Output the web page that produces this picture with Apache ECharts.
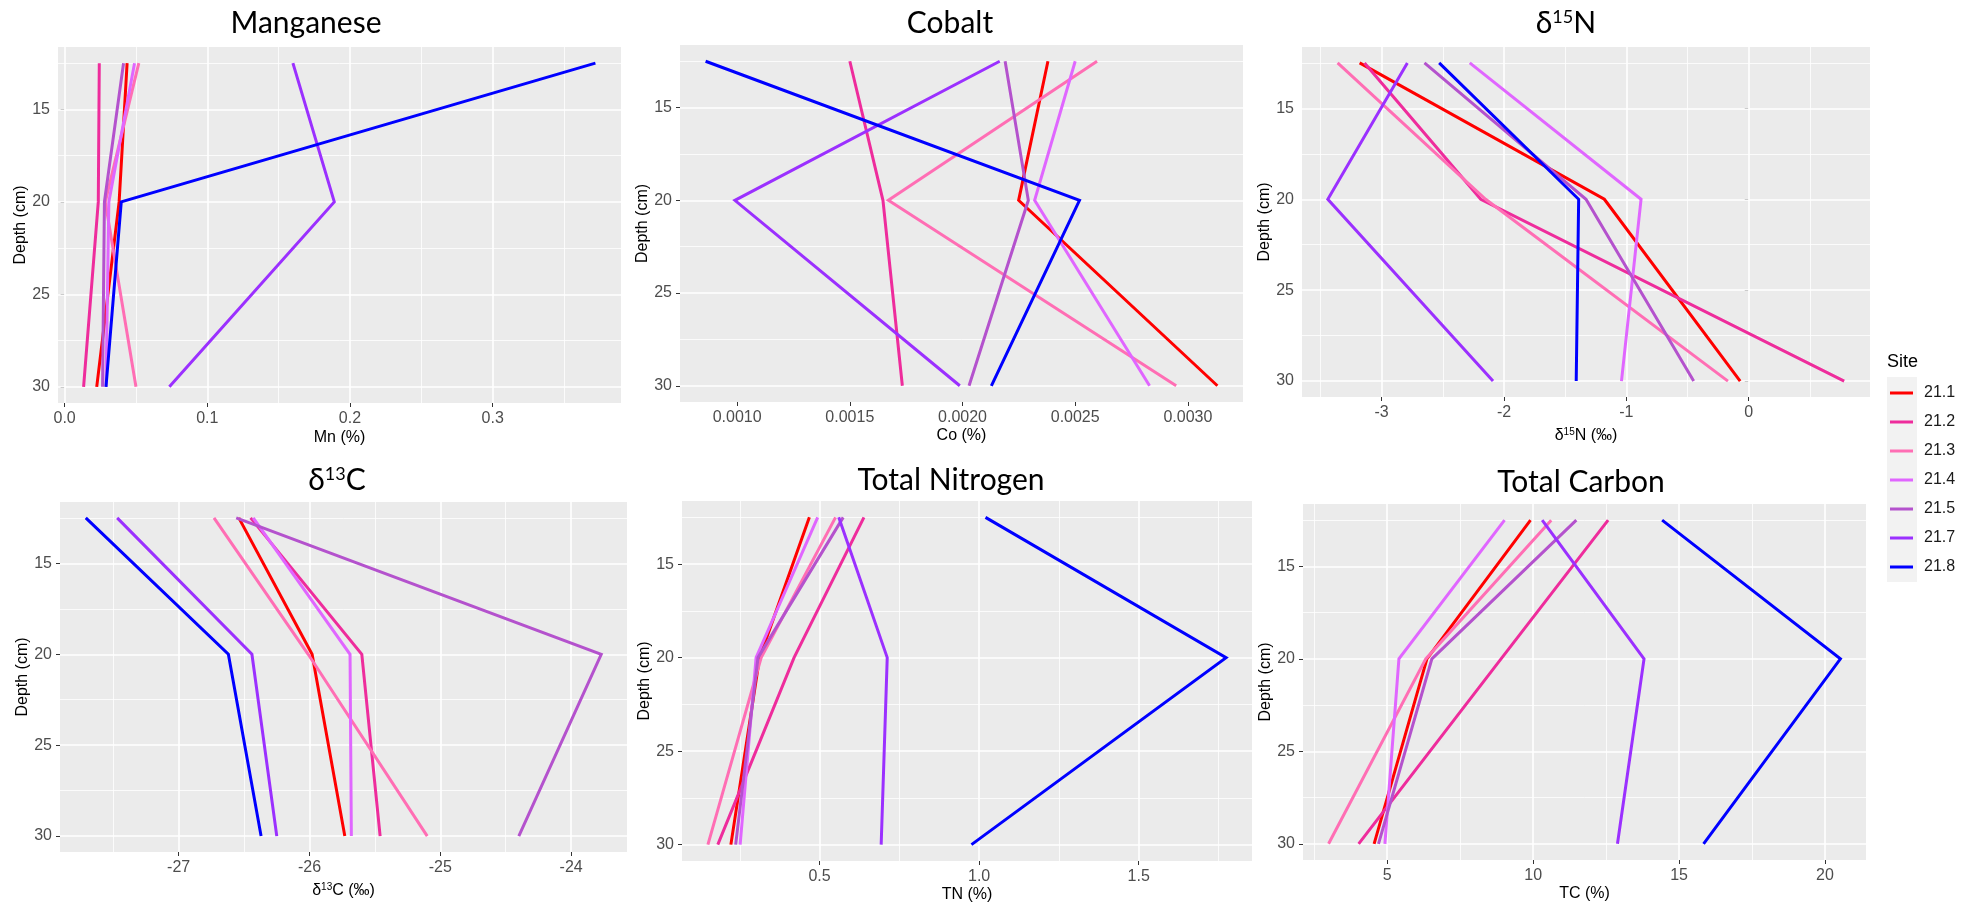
<!DOCTYPE html>
<html>
<head>
<meta charset="utf-8">
<script src="https://cdn.jsdelivr.net/npm/echarts@6/dist/echarts.min.js"></script>
<style>
  html, body { margin: 0; padding: 0; background: #ffffff; }
  #chart { width: 1975px; height: 907px; }
</style>
</head>
<body>
<div id="chart"></div>
<script>
// Sampling depths (cm) and sites
const depths = [12.5, 20, 30];
const sites = ['21.1', '21.2', '21.3', '21.4', '21.5', '21.7', '21.8'];
const siteColors = ['#FF0000', '#EE2C9C', '#FF6EB4', '#E066FF', '#B452CD', '#9B30FF', '#0000FF'];

// One row per site, one value per depth
const mnPct = [
  [0.0438, 0.0382, 0.0225],
  [0.0243, 0.0236, 0.0133],
  [0.0520, 0.0285, 0.0500],
  [0.0490, 0.0310, 0.0290],
  [0.0413, 0.0279, 0.0266],
  [0.1600, 0.1890, 0.0734],
  [0.3720, 0.0397, 0.0290]
];
const coPct = [
  [0.002379, 0.002249, 0.003131],
  [0.001500, 0.001647, 0.001733],
  [0.002597, 0.001671, 0.002948],
  [0.002500, 0.002320, 0.002830],
  [0.002189, 0.002292, 0.002029],
  [0.002165, 0.000990, 0.001988],
  [0.000860, 0.002519, 0.002128]
];
const d15N = [
  [-3.18, -1.18, -0.07],
  [-3.14, -2.19, 0.78],
  [-3.36, -2.15, -0.17],
  [-2.28, -0.88, -1.04],
  [-2.65, -1.33, -0.45],
  [-2.79, -3.44, -2.09],
  [-2.53, -1.39, -1.41]
];
const d13C = [
  [-26.54, -25.98, -25.73],
  [-26.45, -25.60, -25.46],
  [-26.73, -26.01, -25.10],
  [-26.43, -25.69, -25.68],
  [-26.56, -23.77, -24.40],
  [-27.47, -26.44, -26.25],
  [-27.71, -26.62, -26.37]
];
const tnPct = [
  [0.468, 0.312, 0.222],
  [0.639, 0.420, 0.181],
  [0.550, 0.317, 0.150],
  [0.494, 0.301, 0.251],
  [0.574, 0.307, 0.237],
  [0.560, 0.712, 0.693],
  [1.020, 1.774, 0.976]
];
const tcPct = [
  [9.91, 6.36, 4.55],
  [12.57, 8.90, 4.02],
  [10.62, 6.32, 2.99],
  [9.02, 5.40, 4.92],
  [11.48, 6.53, 4.70],
  [10.31, 13.80, 12.89],
  [14.42, 20.53, 15.84]
];

// Axis breaks
const mnTicks = [0, 0.1, 0.2, 0.3];
const coTicks = [0.0010, 0.0015, 0.0020, 0.0025, 0.0030];
const d15NTicks = [-3, -2, -1, 0];
const d13CTicks = [-27, -26, -25, -24];
const tnTicks = [0.5, 1.0, 1.5];
const tcTicks = [5, 10, 15, 20];
const depthTicks = [15, 20, 25, 30];

const LABEL_FONT = 'Liberation Sans';
const TITLE_FONT = 'Lato';

const supRich = {
  s: { fontSize: 10, lineHeight: 10, verticalAlign: 'top', fontFamily: LABEL_FONT, color: '#000' }
};

const panels = [
  { title: 'Manganese', axisName: 'Mn (%)', values: mnPct, ticks: mnTicks, dec: 1,
    box: { left: 58, top: 47, width: 563, height: 356 }, titleAt: [306, 23], nameGap: 26 },
  { title: 'Cobalt', axisName: 'Co (%)', values: coPct, ticks: coTicks, dec: 4,
    box: { left: 680, top: 45, width: 563, height: 357 }, titleAt: [950, 23], nameGap: 24 },
  { title: 'δ{s|15}N', axisName: 'δ{s|15}N (‰)', values: d15N, ticks: d15NTicks, dec: 0,
    box: { left: 1302, top: 47, width: 568, height: 350 }, titleAt: [1566, 23], nameGap: 30 },
  { title: 'δ{s|13}C', axisName: 'δ{s|13}C (‰)', values: d13C, ticks: d13CTicks, dec: 0,
    box: { left: 60, top: 502, width: 567, height: 350 }, titleAt: [337, 480], nameGap: 30 },
  { title: 'Total Nitrogen', axisName: 'TN (%)', values: tnPct, ticks: tnTicks, dec: 1,
    box: { left: 682, top: 501, width: 570, height: 360 }, titleAt: [951, 480], nameGap: 23 },
  { title: 'Total Carbon', axisName: 'TC (%)', values: tcPct, ticks: tcTicks, dec: 0,
    box: { left: 1303, top: 504, width: 563, height: 356 }, titleAt: [1581, 482], nameGap: 24 }
];

// ggplot-style 5% expansion of the data range
function expand(arr) {
  const lo = Math.min(...arr), hi = Math.max(...arr);
  const pad = (hi - lo) * 0.05;
  return [lo - pad, hi + pad];
}
function minorBreaks(ticks, lo, hi) {
  const step = ticks[1] - ticks[0];
  const out = [];
  for (let v = ticks[0] - step / 2; v <= hi + 1e-12; v += step) {
    if (v >= lo - 1e-12) out.push(+v.toFixed(10));
  }
  return out;
}

const yLim = expand(depths);
const yMinor = minorBreaks(depthTicks, yLim[0], yLim[1]);

const grids = [], xAxes = [], yAxes = [], series = [], graphics = [];

panels.forEach((p, i) => {
  const xLim = expand(p.values.flat());
  const xMinor = minorBreaks(p.ticks, xLim[0], xLim[1]);

  grids.push(Object.assign({
    show: true, backgroundColor: '#EBEBEB', borderWidth: 0,
    containLabel: false, outerBoundsMode: 'none'
  }, p.box));

  xAxes.push({
    type: 'value', gridIndex: i, min: xLim[0], max: xLim[1],
    axisLine: { show: false }, splitLine: { show: false },
    axisTick: { show: true, customValues: p.ticks, length: 4, lineStyle: { color: '#333333', width: 1 } },
    axisLabel: { customValues: p.ticks, formatter: v => v.toFixed(p.dec), color: '#4D4D4D',
                 fontSize: 16, fontFamily: LABEL_FONT, margin: 8 },
    name: p.axisName, nameLocation: 'middle', nameGap: p.nameGap,
    nameTextStyle: { fontSize: 16, lineHeight: 18, color: '#000000', fontFamily: LABEL_FONT, rich: supRich }
  });

  yAxes.push({
    type: 'value', gridIndex: i, inverse: true, min: yLim[0], max: yLim[1],
    axisLine: { show: false }, splitLine: { show: false },
    axisTick: { show: true, customValues: depthTicks, length: 4, lineStyle: { color: '#333333', width: 1 } },
    axisLabel: { customValues: depthTicks, color: '#4D4D4D', fontSize: 16, fontFamily: LABEL_FONT, margin: 8 },
    name: 'Depth (cm)', nameLocation: 'middle', nameRotate: 90, nameGap: 27,
    nameTextStyle: { fontSize: 16, color: '#000000', fontFamily: LABEL_FONT }
  });

  // panel grid lines, kept beneath the profiles
  const major = { color: '#FFFFFF', width: 1.6, type: 'solid' };
  const minor = { color: '#FFFFFF', width: 0.8, type: 'solid' };
  const lines = [];
  xMinor.forEach(v => lines.push({ xAxis: v, lineStyle: minor }));
  yMinor.forEach(v => lines.push({ yAxis: v, lineStyle: minor }));
  p.ticks.forEach(v => lines.push({ xAxis: v, lineStyle: major }));
  depthTicks.forEach(v => lines.push({ yAxis: v, lineStyle: major }));
  series.push({
    type: 'line', xAxisIndex: i, yAxisIndex: i, data: [], z: 1, zlevel: 0, silent: true,
    markLine: { silent: true, z: 1, symbol: ['none', 'none'], label: { show: false },
                emphasis: { disabled: true }, animation: false, data: lines }
  });

  // one profile per site
  sites.forEach((site, s) => {
    series.push({
      type: 'line', name: site, xAxisIndex: i, yAxisIndex: i, z: 10,
      data: p.values[s].map((v, k) => [v, depths[k]]),
      showSymbol: false, symbol: 'none', smooth: false, silent: true,
      lineStyle: { width: 3, color: siteColors[s], join: 'miter', cap: 'butt' },
      itemStyle: { color: siteColors[s] },
      emphasis: { disabled: true }
    });
  });

  graphics.push({
    type: 'text', x: p.titleAt[0], y: p.titleAt[1], z: 10,
    style: {
      text: p.title, fontFamily: TITLE_FONT, fontSize: 30, fill: '#000000',
      align: 'center', verticalAlign: 'middle',
      rich: { s: { fontSize: 18, lineHeight: 18, verticalAlign: 'top', fontFamily: TITLE_FONT, fill: '#000000' } }
    }
  });
});

// legend key backdrop and title
graphics.push({ type: 'rect', shape: { x: 1887, y: 377, width: 30, height: 205 }, style: { fill: '#F2F2F2' }, z: -1 });
graphics.push({ type: 'text', x: 1887, y: 362, style: { text: 'Site', fontFamily: LABEL_FONT, fontSize: 18, fill: '#000000', align: 'left', verticalAlign: 'middle' } });

const chart = echarts.init(document.getElementById('chart'), null, { renderer: 'canvas' });
chart.setOption({
  animation: false,
  backgroundColor: '#FFFFFF',
  textStyle: { fontFamily: LABEL_FONT },
  grid: grids,
  xAxis: xAxes,
  yAxis: yAxes,
  legend: {
    data: sites, orient: 'vertical', left: 1890, top: 385, padding: 0,
    itemWidth: 23, itemHeight: 3, itemGap: 13, icon: 'rect', selectedMode: false,
    textStyle: { fontSize: 16, lineHeight: 16, color: '#1A1A1A', fontFamily: LABEL_FONT, padding: [0, 0, 0, 6] }
  },
  graphic: graphics,
  series: series
});
</script>
</body>
</html>
